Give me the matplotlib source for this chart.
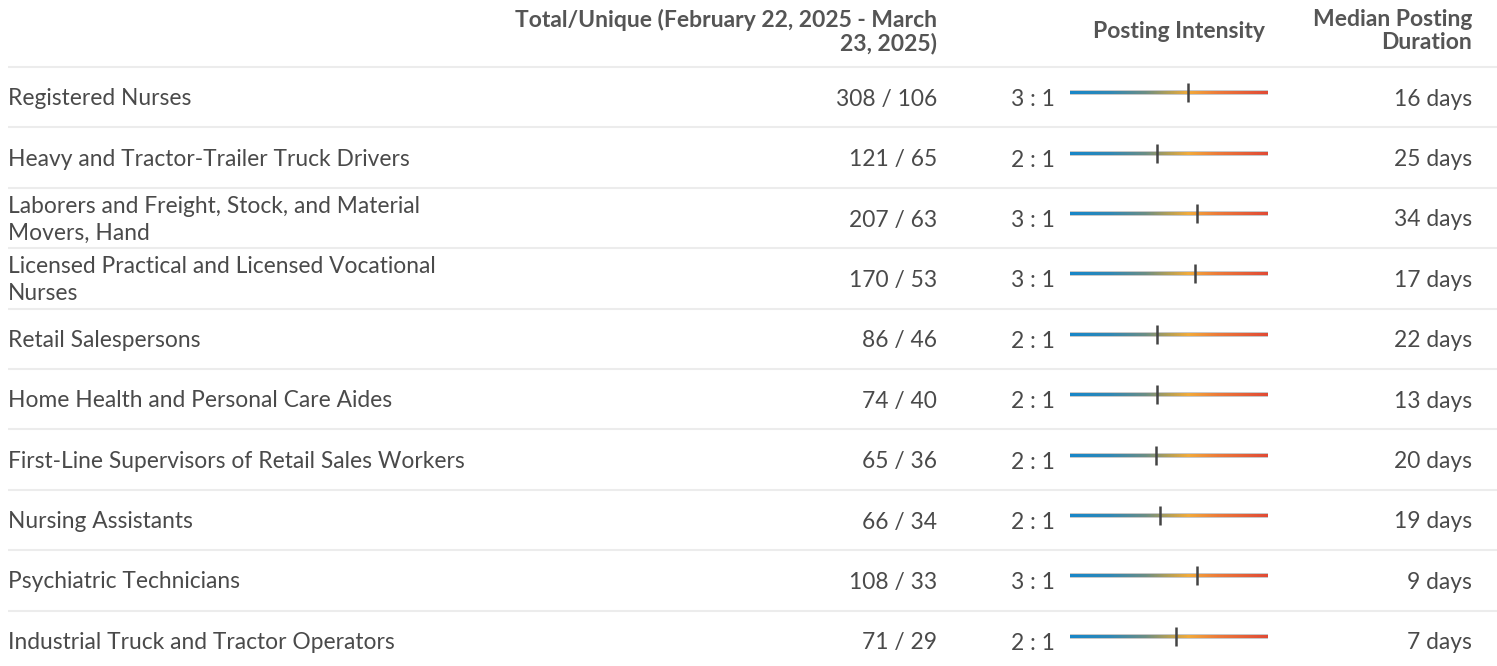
#!/usr/bin/env python

# Occupation table: total/unique postings, posting-intensity gradient bars
# and median posting duration.

import numpy
import matplotlib
matplotlib.use('Agg')
import matplotlib.pyplot as plt
from matplotlib.colors import LinearSegmentedColormap
from matplotlib.patches import Rectangle

occupations = ["Registered Nurses",
               "Heavy and Tractor-Trailer Truck Drivers",
               "Laborers and Freight, Stock, and Material\nMovers, Hand",
               "Licensed Practical and Licensed Vocational\nNurses",
               "Retail Salespersons",
               "Home Health and Personal Care Aides",
               "First-Line Supervisors of Retail Sales Workers",
               "Nursing Assistants",
               "Psychiatric Technicians",
               "Industrial Truck and Tractor Operators"]
totals = [308, 121, 207, 170, 86, 74, 65, 66, 108, 71]
uniques = [106, 65, 63, 53, 46, 40, 36, 34, 33, 29]
intensity = ["3 : 1", "2 : 1", "3 : 1", "3 : 1", "2 : 1",
             "2 : 1", "2 : 1", "2 : 1", "3 : 1", "2 : 1"]
# marker position along the intensity bar (0 = left, 1 = right)
marker_pos = [0.596, 0.44, 0.64, 0.63, 0.44, 0.44, 0.435, 0.455, 0.64, 0.535]
durations = [16, 25, 34, 17, 22, 13, 20, 19, 9, 7]

hdr_total = "Total/Unique (February 22, 2025 - March\n23, 2025)"
hdr_intensity = "Posting Intensity"
hdr_duration = "Median Posting\nDuration"

plt.rcParams['font.family'] = ['Lato', 'DejaVu Sans']
txt = '#4a4a4a'
hdr = '#555555'
grid = '#ececec'
fs = 16.4
hfs = 16.5

W, H = 1497, 666
fig = plt.figure(figsize=(W/100, H/100), dpi=100, facecolor='white')
ax = fig.add_axes([0, 0, 1, 1])
ax.set_xlim(0, W)
ax.set_ylim(H, 0)
ax.set_axis_off()

cmap = LinearSegmentedColormap.from_list('intensity',
        [(0.0, '#1786c8'), (0.2, '#2f88b5'), (0.38, '#6a8d84'),
         (0.5, '#b49f55'), (0.6, '#f2aa3a'), (0.75, '#ec7a3a'),
         (1.0, '#e04a35')])
ncol = 198
grad = numpy.linspace(0, 1, ncol).reshape(1, -1)

row_top = 67.0
row_h = 60.4
bar_x0, bar_x1 = 1070, 1268
gx = numpy.linspace(bar_x0, bar_x1, ncol + 1)

# header
ax.text(937, 9, hdr_total, ha='right', va='top', fontsize=hfs,
        fontweight='bold', color=hdr, linespacing=1.1)
ax.text(1265, 31, hdr_intensity, ha='right', va='center', fontsize=hfs,
        fontweight='bold', color=hdr)
ax.text(1472, 9, hdr_duration, ha='right', va='top', fontsize=hfs,
        fontweight='bold', color=hdr, linespacing=1.1)
ax.hlines(row_top, 8, W, color=grid, lw=1.5)

for i, name in enumerate(occupations):
    yc = row_top + row_h * (i + 0.5)
    ax.text(8, yc + 1.5, name, ha='left', va='center', fontsize=fs,
            color=txt, linespacing=1.35)
    ax.text(937, yc + 2, "%d / %d" % (totals[i], uniques[i]), ha='right',
            va='center', fontsize=fs, color=txt)
    ax.text(1055, yc + 2.5, intensity[i], ha='right', va='center',
            fontsize=fs, color=txt)
    yb = round(yc - 5)
    ax.add_patch(Rectangle((bar_x0, yb - 2.5), bar_x1 - bar_x0, 5,
                           facecolor='#c8c8c8', edgecolor='none',
                           antialiased=False, zorder=2))
    ax.pcolormesh(gx, [yb - 1.5, yb + 1.5], grad, cmap=cmap,
                  shading='flat', antialiased=False, edgecolors='none',
                  zorder=3)
    mx = bar_x0 + marker_pos[i] * (bar_x1 - bar_x0)
    ax.vlines(mx, yb - 9.5, yb + 9.5, color='#444444', lw=1.8, zorder=4)
    ax.text(1472, yc + 2, "%d days" % durations[i], ha='right',
            va='center', fontsize=fs, color=txt)
    if i < len(occupations) - 1:
        ax.hlines(row_top + row_h * (i + 1), 8, W, color=grid, lw=1.5)

ax.set_xlim(0, W)
ax.set_ylim(H, 0)
fig.savefig('out.png', dpi=100, facecolor='white')
